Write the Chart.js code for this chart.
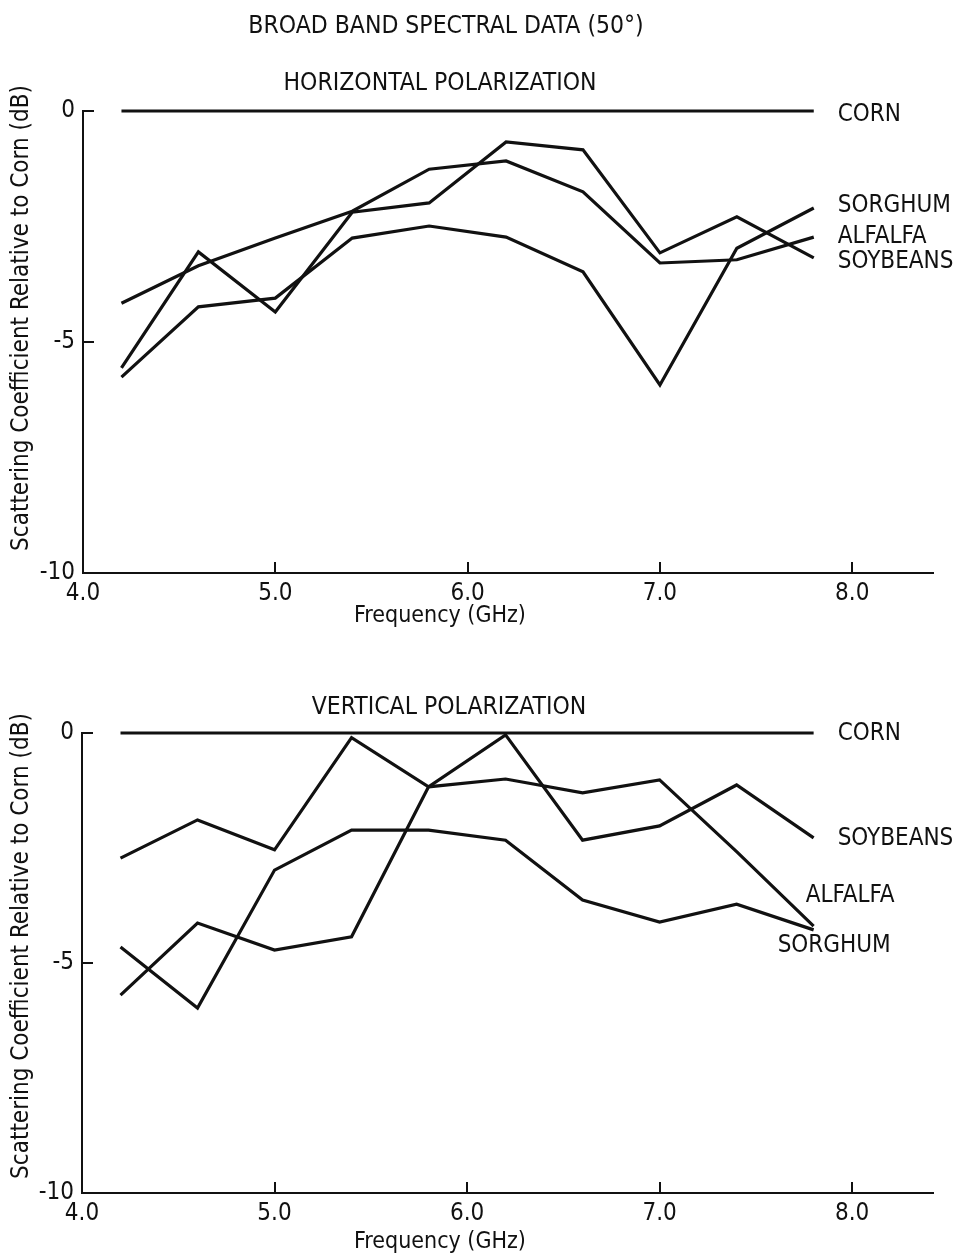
<!DOCTYPE html>
<html>
<head>
<meta charset="utf-8">
<script src="https://cdn.jsdelivr.net/npm/chart.js@4.4.0/dist/chart.umd.min.js"></script>
<style>
  html, body { margin: 0; padding: 0; background: #fff; }
  #wrap { position: relative; width: 962px; height: 1260px; }
  canvas { position: absolute; left: 0; }
</style>
</head>
<body>
<div id="wrap">
  <canvas id="hChart" width="962" height="630" style="top:0"></canvas>
  <canvas id="vChart" width="962" height="630" style="top:630px"></canvas>
</div>
<script>
// frequencies (GHz) where the spectra were sampled
const freqs = [4.2, 4.6, 5.0, 5.4, 5.8, 6.2, 6.6, 7.0, 7.4, 7.8];
const crops = ['CORN', 'SORGHUM', 'ALFALFA', 'SOYBEANS'];
const xTickValues = [4, 5, 6, 7, 8];
const yTickValues = [0, -5, -10];

// horizontal polarization, dB relative to corn
const hCorn     = [0, 0, 0, 0, 0, 0, 0, 0, 0, 0];
const hSorghum  = [-5.76, -4.24, -4.05, -2.75, -2.49, -2.73, -3.48, -5.93, -2.97, -2.10];
const hAlfalfa  = [-4.16, -3.35, -2.75, -2.17, -1.26, -1.08, -1.75, -3.29, -3.22, -2.73];
const hSoybeans = [-5.56, -3.05, -4.35, -2.19, -1.99, -0.67, -0.84, -3.07, -2.29, -3.18];

// vertical polarization, dB relative to corn
const vCorn     = [0, 0, 0, 0, 0, 0, 0, 0, 0, 0];
const vSorghum  = [-4.65, -5.98, -2.98, -2.11, -2.11, -2.33, -3.63, -4.11, -3.72, -4.28];
const vAlfalfa  = [-5.70, -4.13, -4.72, -4.43, -1.17, -1.00, -1.30, -1.02, -2.58, -4.20];
const vSoybeans = [-2.72, -1.89, -2.54, -0.10, -1.17, -0.04, -2.33, -2.02, -1.13, -2.28];

const ink = '#111';
const fontFamily = "'DejaVu Sans Condensed', 'Liberation Sans Narrow', 'DejaVu Sans', sans-serif";
const yTitle = 'Scattering Coefficient Relative to Corn (dB)';

Chart.defaults.font.family = fontFamily;
Chart.defaults.color = ink;

// draws inward tick marks, the crop names at line ends, the headings and the y title
const extras = {
  id: 'extras',
  afterDraw(chart, args, opts) {
    const { ctx, chartArea } = chart;
    const x = chart.scales.x, y = chart.scales.y;
    ctx.save();
    ctx.strokeStyle = ink;
    ctx.lineWidth = 2;
    ctx.beginPath();
    x.ticks.forEach(t => {
      if (t.value === x.min) return;
      const px = Math.round(x.getPixelForValue(t.value));
      ctx.moveTo(px, chartArea.bottom);
      ctx.lineTo(px, chartArea.bottom - 11);
    });
    y.ticks.forEach(t => {
      if (t.value === y.min) return;
      const py = Math.round(y.getPixelForValue(t.value));
      ctx.moveTo(chartArea.left, py);
      ctx.lineTo(chartArea.left + 11, py);
    });
    ctx.stroke();

    ctx.fillStyle = ink;
    ctx.textBaseline = 'middle';
    ctx.textAlign = 'left';
    ctx.font = '24px ' + fontFamily;
    chart.data.datasets.forEach(ds => {
      const off = opts.offsets[ds.label];
      const last = ds.data[ds.data.length - 1];
      ctx.fillText(ds.label, x.getPixelForValue(last.x) + off[0], y.getPixelForValue(last.y) + off[1]);
    });

    ctx.textAlign = 'center';
    opts.headings.forEach(h => {
      ctx.font = h.size + 'px ' + fontFamily;
      ctx.fillText(h.text, h.x, h.y);
    });

    // rotated y axis title
    ctx.translate(22, opts.yTitleCenter);
    ctx.rotate(-Math.PI / 2);
    ctx.font = '24px ' + fontFamily;
    ctx.fillText(yTitle, 0, 0);
    ctx.restore();
  }
};

function makeChart(id, series, offsets, headings, box) {
  const datasets = crops.map((name, i) => ({
    label: name,
    data: freqs.map((f, j) => ({ x: f, y: series[i][j] })),
    borderColor: ink,
    borderWidth: 3.2,
    pointRadius: 0,
    tension: 0,
    clip: false
  }));

  return new Chart(document.getElementById(id), {
    type: 'line',
    data: { datasets: datasets },
    options: {
      responsive: false,
      animation: false,
      layout: { padding: { top: box.top, right: box.right, bottom: 0, left: 0 } },
      plugins: {
        legend: { display: false },
        tooltip: { enabled: false },
        extras: { offsets: offsets, headings: headings, yTitleCenter: box.yTitleCenter }
      },
      scales: {
        x: {
          type: 'linear',
          min: 4.0,
          max: 8.42,
          afterFit: s => { s.height = box.xHeight; },
          afterBuildTicks: s => { s.ticks = xTickValues.map(v => ({ value: v })); },
          grid: { display: false, drawTicks: false },
          border: { display: true, color: ink, width: 2 },
          ticks: {
            padding: 6,
            font: { size: 24 },
            callback: v => v.toFixed(1)
          }
        },
        y: {
          min: -10,
          max: 0,
          afterFit: s => { s.width = box.yWidth; },
          afterBuildTicks: s => { s.ticks = yTickValues.map(v => ({ value: v })); },
          grid: { display: false, drawTicks: false },
          border: { display: true, color: ink, width: 2 },
          ticks: {
            padding: 8,
            font: { size: 24 },
            callback: v => String(v)
          }
        }
      }
    },
    plugins: [extras]
  });
}

makeChart('hChart',
  [hCorn, hSorghum, hAlfalfa, hSoybeans],
  { CORN: [24, 4], SORGHUM: [24, -2], ALFALFA: [24, 0], SOYBEANS: [24, 4] },
  [
    { text: 'BROAD BAND SPECTRAL DATA (50°)', x: 446, y: 27, size: 24.5 },
    { text: 'HORIZONTAL POLARIZATION', x: 440, y: 84, size: 24.5 },
    { text: 'Frequency (GHz)', x: 440, y: 616, size: 23 }
  ],
  { top: 111, right: 29, yWidth: 83, xHeight: 57, yTitleCenter: 318 }
);

makeChart('vChart',
  [vCorn, vSorghum, vAlfalfa, vSoybeans],
  { CORN: [24, 1], SORGHUM: [-36, 16], ALFALFA: [-8, -30], SOYBEANS: [24, 1] },
  [
    { text: 'VERTICAL POLARIZATION', x: 449, y: 78, size: 24.5 },
    { text: 'Frequency (GHz)', x: 440, y: 612, size: 23 }
  ],
  { top: 103, right: 29, yWidth: 82, xHeight: 67, yTitleCenter: 316 }
);
</script>
</body>
</html>
